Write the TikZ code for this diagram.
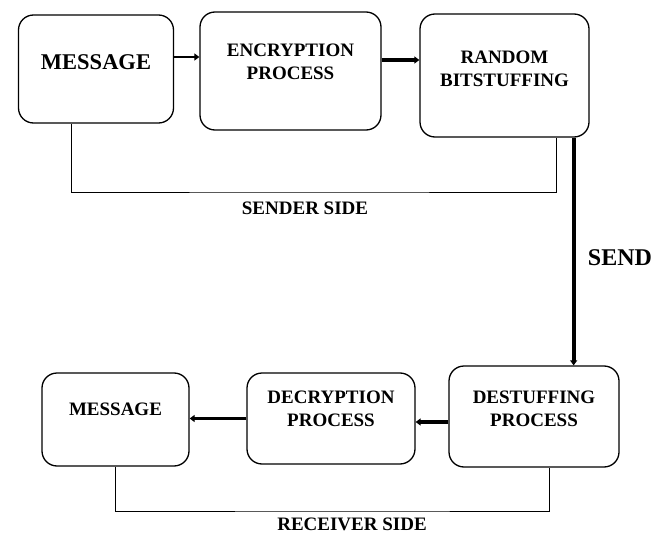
\documentclass[tikz,border=0pt]{standalone}
\usepackage{fontspec}
\setmainfont{Liberation Serif}
\usetikzlibrary{arrows.meta}
\begin{document}
\begin{tikzpicture}[x=1pt, y=-1pt,
        blk/.style={draw, line width=1.3pt, rounded corners=15pt, inner sep=0pt},
        lbl/.style={font=\bfseries\fontsize{19}{23}\selectfont, align=center},
        flow/.style={line width=3.2pt, -{Triangle[length=5pt, width=7pt]}},
        side/.style={line width=1pt}]
            \useasboundingbox (0,0) rectangle (670,535);
            \node[blk, minimum width=155pt, minimum height=108pt,
            label={[lbl, yshift=7pt, font=\bfseries\fontsize{22.5}{27}\selectfont]center:MESSAGE}] (msgA) at (96,69) {};
            \node[blk, minimum width=181pt, minimum height=118pt,
            label={[lbl, yshift=9pt]center:ENCRYPTION\\PROCESS}] (enc) at (290.5,71) {};
            \node[blk, minimum width=169pt, minimum height=123pt,
            label={[lbl, yshift=6.5pt]center:RANDOM\\BITSTUFFING}] (rnd) at (504.5,75.5) {};
            \node[blk, minimum width=147pt, minimum height=93pt,
            label={[lbl, yshift=10pt]center:MESSAGE}] (msgB) at (115.5,419.5) {};
            \node[blk, minimum width=168pt, minimum height=91pt,
            label={[lbl, yshift=10pt]center:DECRYPTION\\PROCESS}] (dec) at (331,418.5) {};
            \node[blk, minimum width=170pt, minimum height=101pt,
            label={[lbl, yshift=7.5pt]center:DESTUFFING\\PROCESS}] (dst) at (534,416.5) {};
            \draw[flow, line width=2.6pt] ([yshift=12pt]msgA.east) -- ([yshift=12pt]msgA.east -| enc.west);
            \draw[flow] ([yshift=11pt]enc.east) -- ([yshift=11pt]enc.east -| rnd.west);
            \draw[flow, line width=4pt] ([xshift=-16pt]rnd.south east) -- ([xshift=-16pt]rnd.south east |- dst.north);
            \draw[flow] ([yshift=-5.5pt]dst.west) -- ([yshift=-5.5pt]dst.west -| dec.east);
            \draw[flow] (dec.west) -- (dec.west -| msgB.east);
            \node[lbl] (sndr) at (305,208) {SENDER SIDE};
            \coordinate (sbase) at (305,192);
            \draw[side] ([xshift=-25pt]msgA.south) |- (sbase) -| ([xshift=52pt]rnd.south);
            \node[lbl] (rcvr) at (352,524) {RECEIVER SIDE};
            \coordinate (rbase) at (352,511);
            \draw[side] (msgB.south) |- (rbase) -| ([xshift=15pt]dst.south);
            \node[lbl, font=\bfseries\fontsize{24}{29}\selectfont] (send) at (620,258) {SEND};
        \end{tikzpicture}
\end{document}
